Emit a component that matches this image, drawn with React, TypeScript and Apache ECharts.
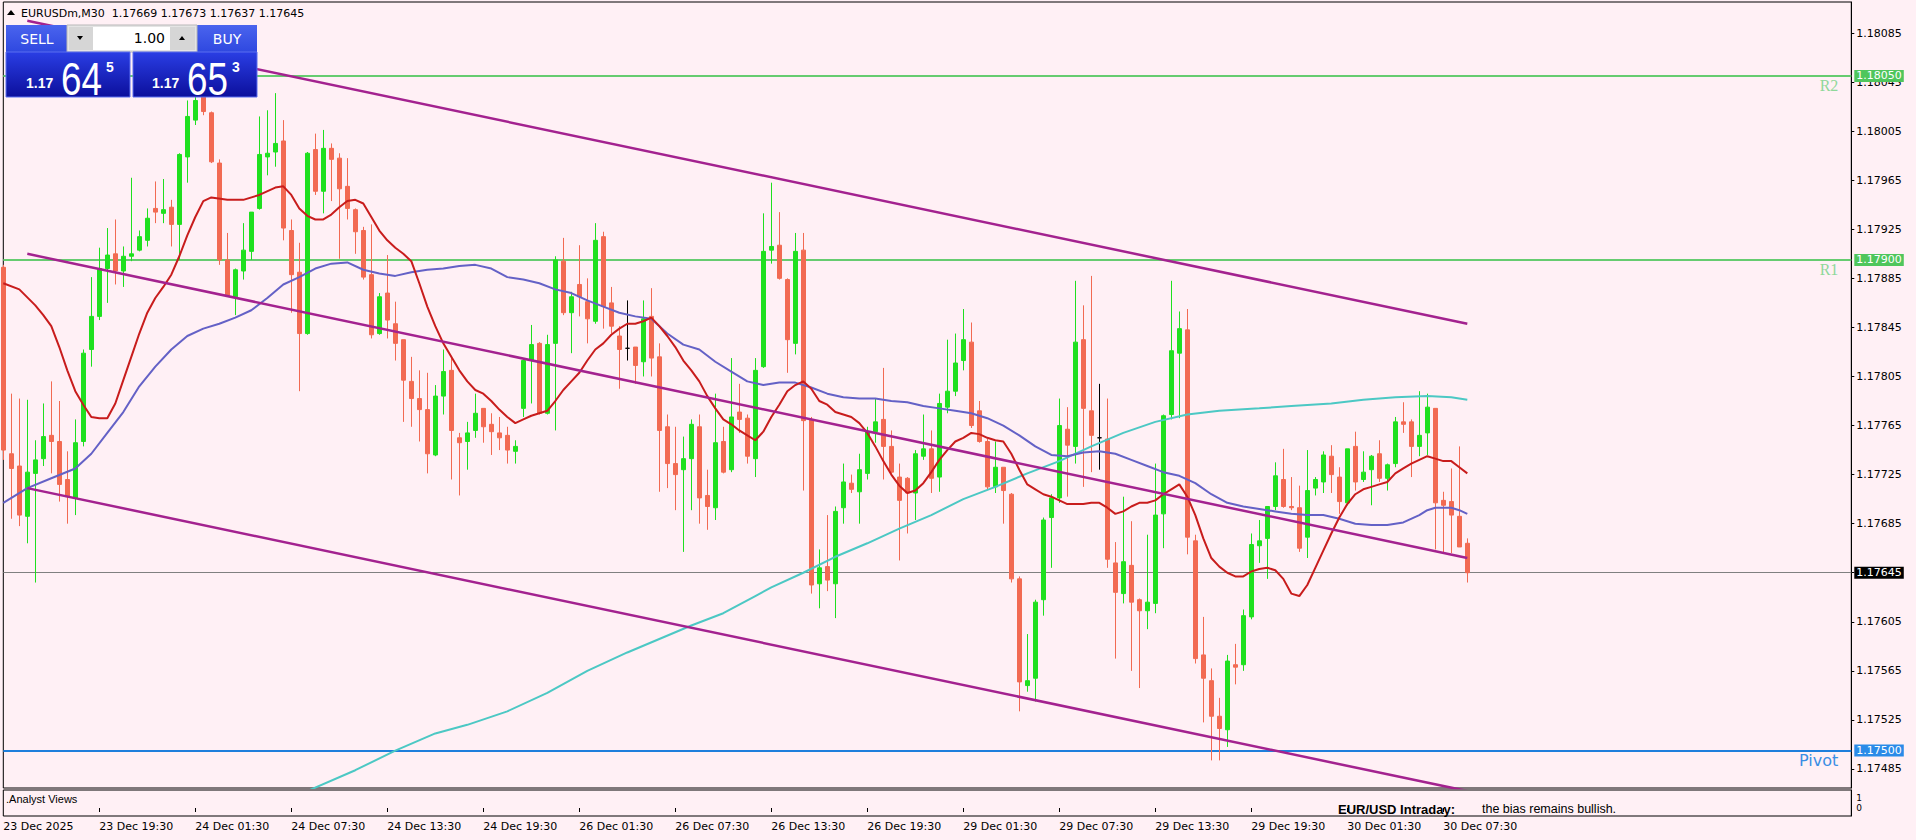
import React, { useEffect, useRef } from "react";
import * as echarts from "echarts";

// [open, high, low, close] per M30 bar, 23 Dec 13:30 .. 30 Dec 09:00
const candles: number[][] = [
[1.17894,1.17896,1.17737,1.17745],[1.17742,1.17791,1.17689,1.17730],[1.17732,1.17787,1.17683,1.17692],[1.17691,1.17786,1.17669,1.17727],
[1.17726,1.17753,1.17637,1.17737],[1.17738,1.17783,1.17732,1.17756],[1.17757,1.17801,1.17726,1.17752],[1.17752,1.17785,1.17703,1.17717],
[1.17721,1.17744,1.17685,1.17707],[1.17706,1.17770,1.17692,1.17751],[1.17752,1.17827,1.17748,1.17824],[1.17827,1.17886,1.17813,1.17854],
[1.17854,1.17910,1.17851,1.17893],[1.17893,1.17926,1.17865,1.17904],[1.17905,1.17933,1.17880,1.17891],[1.17891,1.17911,1.17878,1.17903],
[1.17903,1.17967,1.17899,1.17905],[1.17908,1.17924,1.17907,1.17919],[1.17916,1.17942,1.17911,1.17934],[1.17942,1.17964,1.17930,1.17939],
[1.17938,1.17966,1.17930,1.17941],[1.17943,1.17949,1.17911,1.17929],[1.17929,1.17987,1.17900,1.17986],[1.17984,1.18030,1.17963,1.18017],
[1.18014,1.18040,1.18010,1.18030],[1.18035,1.18045,1.18018,1.18021],[1.18020,1.18021,1.17979,1.17980],[1.17979,1.17982,1.17896,1.17900],
[1.17900,1.17922,1.17870,1.17871],[1.17870,1.17893,1.17855,1.17892],[1.17891,1.17930,1.17884,1.17908],[1.17907,1.17939,1.17900,1.17939],
[1.17942,1.18017,1.17941,1.17986],[1.17984,1.18022,1.17969,1.17987],[1.17988,1.18036,1.17976,1.17995],[1.17997,1.18014,1.17916,1.17926],
[1.17924,1.17933,1.17857,1.17888],[1.17890,1.17914,1.17793,1.17840],[1.17840,1.17988,1.17839,1.17987],[1.17990,1.18003,1.17953,1.17956],
[1.17956,1.18006,1.17938,1.17991],[1.17991,1.17995,1.17948,1.17982],[1.17983,1.17987,1.17901,1.17958],[1.17960,1.17983,1.17933,1.17942],
[1.17941,1.17942,1.17905,1.17923],[1.17924,1.17927,1.17884,1.17886],[1.17888,1.17929,1.17836,1.17839],[1.17840,1.17873,1.17839,1.17870],
[1.17873,1.17904,1.17836,1.17851],[1.17848,1.17866,1.17818,1.17832],[1.17835,1.17835,1.17768,1.17802],[1.17801,1.17821,1.17764,1.17787],
[1.17787,1.17810,1.17752,1.17778],[1.17778,1.17808,1.17726,1.17742],[1.17741,1.17798,1.17740,1.17789],[1.17789,1.17827,1.17774,1.17809],
[1.17810,1.17820,1.17721,1.17761],[1.17755,1.17759,1.17708,1.17751],[1.17752,1.17768,1.17729,1.17759],[1.17761,1.17791,1.17755,1.17775],
[1.17779,1.17779,1.17751,1.17764],[1.17766,1.17775,1.17741,1.17760],[1.17759,1.17772,1.17745,1.17755],[1.17757,1.17764,1.17734,1.17745],
[1.17744,1.17753,1.17734,1.17748],[1.17779,1.17820,1.17772,1.17818],[1.17818,1.17847,1.17783,1.17831],[1.17832,1.17833,1.17774,1.17775],
[1.17775,1.17839,1.17774,1.17831],[1.17832,1.17903,1.17761,1.17900],[1.17899,1.17918,1.17855,1.17857],[1.17857,1.17874,1.17824,1.17870],
[1.17880,1.17912,1.17854,1.17870],[1.17866,1.17885,1.17832,1.17852],[1.17850,1.17930,1.17848,1.17916],[1.17919,1.17923,1.17844,1.17862],
[1.17865,1.17878,1.17840,1.17846],[1.17838,1.17846,1.17795,1.17827],[1.17828,1.17867,1.17818,1.17828],[1.17829,1.17829,1.17799,1.17814],
[1.17817,1.17867,1.17805,1.17852],[1.17854,1.17877,1.17805,1.17820],[1.17821,1.17832,1.17711,1.17761],[1.17764,1.17774,1.17714,1.17734],
[1.17734,1.17764,1.17696,1.17725],[1.17729,1.17756,1.17662,1.17738],[1.17738,1.17770,1.17696,1.17766],[1.17764,1.17774,1.17685,1.17706],
[1.17708,1.17729,1.17680,1.17699],[1.17698,1.17791,1.17688,1.17751],[1.17752,1.17764,1.17726,1.17727],[1.17729,1.17820,1.17727,1.17772],
[1.17776,1.17799,1.17759,1.17770],[1.17771,1.17774,1.17734,1.17740],[1.17738,1.17820,1.17723,1.17810],[1.17813,1.17938,1.17812,1.17907],
[1.17908,1.17963,1.17897,1.17911],[1.17912,1.17939,1.17884,1.17885],[1.17884,1.17885,1.17808,1.17835],[1.17832,1.17922,1.17823,1.17907],
[1.17908,1.17922,1.17712,1.17769],[1.17770,1.17772,1.17628,1.17635],[1.17636,1.17664,1.17616,1.17649],[1.17650,1.17692,1.17630,1.17639],
[1.17636,1.17699,1.17608,1.17695],[1.17698,1.17734,1.17685,1.17719],[1.17718,1.17725,1.17710,1.17713],[1.17711,1.17742,1.17685,1.17729],
[1.17726,1.17764,1.17721,1.17760],[1.17760,1.17787,1.17751,1.17768],[1.17770,1.17812,1.17721,1.17748],[1.17748,1.17761,1.17726,1.17727],
[1.17723,1.17734,1.17655,1.17704],[1.17722,1.17723,1.17677,1.17710],[1.17710,1.17745,1.17688,1.17742],[1.17740,1.17774,1.17737,1.17746],
[1.17746,1.17761,1.17710,1.17722],[1.17723,1.17791,1.17711,1.17783],[1.17780,1.17835,1.17775,1.17793],[1.17793,1.17840,1.17789,1.17816],
[1.17818,1.17860,1.17810,1.17835],[1.17833,1.17849,1.17763,1.17765],[1.17777,1.17785,1.17751,1.17752],[1.17752,1.17754,1.17713,1.17715],
[1.17715,1.17752,1.17710,1.17731],[1.17731,1.17731,1.17685,1.17712],[1.17709,1.17710,1.17637,1.17640],[1.17640,1.17642,1.17532,1.17556],
[1.17553,1.17595,1.17548,1.17557],[1.17559,1.17623,1.17540,1.17621],[1.17623,1.17690,1.17610,1.17688],[1.17690,1.17709,1.17649,1.17706],
[1.17706,1.17787,1.17702,1.17765],[1.17762,1.17780,1.17707,1.17749],[1.17748,1.17883,1.17734,1.17833],[1.17835,1.17863,1.17715,1.17779],
[1.17777,1.17887,1.17727,1.17757],[1.17755,1.17799,1.17729,1.17755],[1.17754,1.17787,1.17649,1.17656],[1.17653,1.17670,1.17575,1.17629],
[1.17628,1.17707,1.17620,1.17654],[1.17651,1.17687,1.17565,1.17621],[1.17623,1.17624,1.17551,1.17614],[1.17614,1.17676,1.17599,1.17621],
[1.17620,1.17734,1.17612,1.17692],[1.17693,1.17774,1.17665,1.17773],[1.17774,1.17883,1.17770,1.17826],[1.17824,1.17858,1.17771,1.17844],
[1.17843,1.17860,1.17660,1.17674],[1.17671,1.17676,1.17571,1.17575],[1.17578,1.17609,1.17523,1.17559],[1.17557,1.17567,1.17492,1.17528],
[1.17528,1.17543,1.17492,1.17518],[1.17517,1.17578,1.17503,1.17573],[1.17570,1.17587,1.17554,1.17568],[1.17570,1.17615,1.17565,1.17610],
[1.17609,1.17677,1.17607,1.17668],[1.17667,1.17688,1.17653,1.17671],[1.17673,1.17699,1.17640,1.17699],[1.17699,1.17735,1.17696,1.17724],
[1.17721,1.17746,1.17698,1.17699],[1.17699,1.17723,1.17696,1.17698],[1.17698,1.17716,1.17662,1.17665],[1.17674,1.17745,1.17657,1.17712],
[1.17714,1.17723,1.17708,1.17721],[1.17719,1.17744,1.17710,1.17741],[1.17740,1.17749,1.17710,1.17725],[1.17723,1.17731,1.17693,1.17703],
[1.17702,1.17746,1.17700,1.17746],[1.17748,1.17760,1.17712,1.17719],[1.17721,1.17744,1.17719,1.17727],[1.17729,1.17741,1.17700,1.17740],
[1.17742,1.17753,1.17719,1.17722],[1.17722,1.17734,1.17712,1.17733],[1.17734,1.17772,1.17731,1.17768],[1.17768,1.17784,1.17759,1.17766],
[1.17768,1.17770,1.17723,1.17748],[1.17748,1.17793,1.17740,1.17757],[1.17759,1.17791,1.17741,1.17780],[1.17779,1.17779,1.17664,1.17702],
[1.17704,1.17711,1.17661,1.17700],[1.17703,1.17730,1.17661,1.17692],[1.17691,1.17748,1.17666,1.17666],[1.17669,1.17673,1.17637,1.17645],
];

// moving averages: [bar index, price]
const maFast: number[][] = [
[0,1.17881],[2,1.17876],[4,1.17863],[5,1.17855],[6,1.17846],[7,1.17829],[8,1.17810],[9,1.17793],[10,1.17782],[11,1.17772],[12,1.17771],[13,1.17771],[14,1.17783],[15,1.17802],[16,1.17821],[17,1.17840],[18,1.17857],[19,1.17869],[20,1.17878],[21,1.17888],[22,1.17903],[23,1.17920],[24,1.17935],[25,1.17948],[26,1.17951],[28,1.17949],[30,1.17949],[32,1.17953],[34,1.17959],[35,1.17960],[36,1.17953],[37,1.17942],[38,1.17936],[39,1.17933],[40,1.17933],[41,1.17937],[42,1.17943],[43,1.17948],[44,1.17949],[45,1.17946],[46,1.17935],[47,1.17924],[48,1.17916],[49,1.17910],[50,1.17905],[51,1.17899],[52,1.17881],[53,1.17862],[54,1.17846],[55,1.17832],[56,1.17821],[57,1.17810],[58,1.17801],[59,1.17794],[60,1.17791],[61,1.17785],[62,1.17778],[63,1.17772],[64,1.17767],[65,1.17770],[66,1.17773],[67,1.17775],[68,1.17777],[69,1.17785],[70,1.17794],[71,1.17801],[72,1.17808],[73,1.17818],[74,1.17827],[75,1.17832],[76,1.17839],[77,1.17844],[78,1.17848],[79,1.17848],[80,1.17850],[81,1.17853],[82,1.17846],[83,1.17838],[84,1.17829],[85,1.17818],[86,1.17810],[87,1.17801],[88,1.17789],[89,1.17779],[90,1.17770],[91,1.17766],[92,1.17761],[93,1.17757],[94,1.17753],[95,1.17760],[96,1.17772],[97,1.17782],[98,1.17793],[99,1.17798],[100,1.17801],[101,1.17795],[102,1.17785],[103,1.17782],[104,1.17776],[105,1.17774],[106,1.17772],[107,1.17767],[108,1.17759],[109,1.17748],[110,1.17736],[111,1.17725],[112,1.17716],[113,1.17710],[114,1.17712],[115,1.17718],[116,1.17727],[117,1.17737],[118,1.17745],[119,1.17752],[120,1.17755],[121,1.17759],[122,1.17758],[123,1.17755],[124,1.17753],[125,1.17752],[126,1.17742],[127,1.17729],[128,1.17717],[129,1.17713],[130,1.17709],[131,1.17707],[132,1.17704],[133,1.17701],[134,1.17701],[135,1.17701],[136,1.17702],[137,1.17702],[138,1.17698],[139,1.17693],[140,1.17695],[141,1.17699],[142,1.17702],[143,1.17702],[144,1.17704],[145,1.17709],[146,1.17713],[147,1.17717],[148,1.17707],[149,1.17692],[150,1.17673],[151,1.17657],[152,1.17650],[153,1.17645],[154,1.17642],[155,1.17642],[156,1.17646],[157,1.17648],[158,1.17649],[159,1.17647],[160,1.17640],[161,1.17628],[162,1.17626],[163,1.17635],[164,1.17649],[165,1.17663],[166,1.17677],[167,1.17690],[168,1.17701],[169,1.17709],[170,1.17713],[171,1.17715],[172,1.17717],[173,1.17719],[174,1.17726],[175,1.17730],[176,1.17734],[177,1.17737],[178,1.17740],[179,1.17738],[180,1.17736],[181,1.17736],[182,1.17731],[183,1.17726],
];
const maMid: number[][] = [
[0,1.17702],[3,1.17714],[6,1.17722],[9,1.17730],[11,1.17742],[13,1.17759],[15,1.17776],[17,1.17797],[19,1.17813],[21,1.17827],[23,1.17838],[25,1.17844],[27,1.17848],[29,1.17853],[31,1.17859],[33,1.17869],[35,1.17880],[37,1.17886],[39,1.17893],[41,1.17897],[43,1.17898],[45,1.17892],[47,1.17889],[49,1.17887],[51,1.17890],[53,1.17892],[55,1.17893],[57,1.17895],[59,1.17896],[61,1.17893],[63,1.17886],[65,1.17884],[67,1.17881],[69,1.17876],[71,1.17873],[73,1.17867],[75,1.17862],[77,1.17857],[79,1.17854],[81,1.17852],[83,1.17840],[85,1.17831],[87,1.17827],[89,1.17817],[91,1.17809],[93,1.17801],[95,1.17798],[97,1.17800],[99,1.17800],[101,1.17796],[103,1.17791],[105,1.17788],[107,1.17787],[109,1.17787],[111,1.17785],[113,1.17784],[115,1.17781],[117,1.17779],[119,1.17777],[121,1.17775],[123,1.17771],[125,1.17765],[127,1.17757],[129,1.17748],[131,1.17741],[133,1.17740],[135,1.17743],[137,1.17744],[139,1.17742],[141,1.17737],[143,1.17732],[145,1.17727],[147,1.17724],[149,1.17718],[151,1.17709],[153,1.17702],[155,1.17699],[157,1.17697],[159,1.17695],[161,1.17693],[163,1.17692],[165,1.17692],[167,1.17689],[169,1.17685],[171,1.17684],[173,1.17684],[175,1.17686],[177,1.17692],[178,1.17696],[179,1.17698],[180,1.17698],[181,1.17698],[182,1.17696],[183,1.17693],
];
const maSlow: number[][] = [
[38,1.17467],[44,1.17484],[49,1.17500],[54,1.17514],[58,1.17521],[63,1.17532],[68,1.17547],[73,1.17565],[78,1.17580],[82,1.17591],[86,1.17602],[90,1.17612],[94,1.17626],[96,1.17633],[100,1.17645],[104,1.17658],[108,1.17669],[112,1.17681],[116,1.17692],[120,1.17705],[124,1.17715],[128,1.17726],[132,1.17736],[136,1.17748],[140,1.17759],[144,1.17768],[148,1.17774],[152,1.17777],[157,1.17779],[161,1.17781],[166,1.17783],[170,1.17786],[174,1.17788],[178,1.17789],[181,1.17788],[183,1.17786],
];

// trend channel lines: [bar index, price]
const channelUpper = [[3, 1.18095], [183, 1.17848]];
const channelMiddle = [[3, 1.17905], [183, 1.17657]];
const channelLower = [[3, 1.17714], [183, 1.17467]];

const levelR2 = 1.1805;
const levelR1 = 1.179;
const levelPivot = 1.175;
const bidPrice = 1.17645;

const priceTicks = [1.17485,1.17525,1.17565,1.17605,1.17645,1.17685,1.17725,1.17765,1.17805,1.17845,1.17885,1.17925,1.17965,1.18005,1.18045,1.18085];

const timeTicks: [number, string][] = [
[0,"23 Dec 2025"],[12,"23 Dec 19:30"],[24,"24 Dec 01:30"],[36,"24 Dec 07:30"],[48,"24 Dec 13:30"],[60,"24 Dec 19:30"],[72,"26 Dec 01:30"],[84,"26 Dec 07:30"],[96,"26 Dec 13:30"],[108,"26 Dec 19:30"],[120,"29 Dec 01:30"],[132,"29 Dec 07:30"],[144,"29 Dec 13:30"],[156,"29 Dec 19:30"],[168,"30 Dec 01:30"],[180,"30 Dec 07:30"],
];

const SLOTS = 232;
const categories = Array.from({ length: SLOTS }, (_, i) => String(i));
const tickMap: Record<number, string> = {};
timeTicks.forEach(([i, t]) => (tickMap[i] = t));

const FONT = '"DejaVu Sans", sans-serif';
const BG = "#FFF0F5";
const BULL = "#1fe01f";
const BEAR = "#f26a52";
const CHANNEL = "#a3228f";

export default function App() {
  const ref = useRef<HTMLDivElement>(null);
  useEffect(() => {
    if (!ref.current) return;
    const chart = echarts.init(ref.current, null, { renderer: "svg" });
    const ohlc = candles.map(([o, h, l, c]) => [o, c, l, h]);
    const lineSeries = (data: number[][], color: string, width: number, z = 4, extra: any = {}) => ({
      type: "line",
      xAxisIndex: 0,
      yAxisIndex: 0,
      data,
      symbol: "none",
      silent: true,
      z,
      lineStyle: { color, width },
      ...extra,
    });
    const tag = (value: number, bg: string) => ({
      yAxis: value,
      lineStyle: { color: "rgba(0,0,0,0)", width: 1, type: "solid" },
      label: {
        show: true,
        position: "end",
        distance: 3,
        formatter: value.toFixed(5),
        color: "#fff",
        backgroundColor: bg,
        padding: [1, 2, 0, 2],
        fontSize: 11,
        fontFamily: FONT,
      },
    });
    const sellBuyGrad = (a: string, b: string) =>
      new echarts.graphic.LinearGradient(0, 0, 0, 1, [
        { offset: 0, color: a },
        { offset: 1, color: b },
      ]);
    const txt = (text: string, x: number, y: number, font: string, fill: string, align = "left", extra: any = {}) => ({
      type: "text",
      z: 101,
      x,
      y,
      ...extra,
      style: { text, x: 0, y: 0, font, fill, align, verticalAlign: "middle" },
    });
    const levelLabel = (text: string, color: string, font: string, size: number) => ({
      show: true,
      position: "insideEndBottom",
      formatter: text,
      color,
      fontSize: size,
      fontFamily: font,
      distance: 2,
      padding: [0, 11, 0, 0],
    });

    chart.setOption({
      animation: false,
      backgroundColor: BG,
      grid: [
        { left: 3.3, top: 2, width: 1848, height: 786, show: true, borderColor: "#000", borderWidth: 1, backgroundColor: "transparent" },
        { left: 3.3, top: 790, width: 1848, height: 26, show: true, borderColor: "#000", borderWidth: 1, backgroundColor: "transparent" },
      ],
      xAxis: [
        { type: "category", gridIndex: 0, data: categories, boundaryGap: false, show: false },
        {
          type: "category",
          gridIndex: 1,
          data: categories,
          boundaryGap: false,
          axisLine: { show: false },
          axisTick: { show: true, length: 4, interval: (i: number) => i in tickMap && i > 0, lineStyle: { color: "#000" } },
          axisLabel: {
            interval: (i: number) => i in tickMap,
            formatter: (_v: string, i: number) => tickMap[i] || "",
            align: "left",
            margin: 5,
            padding: [0, 0, 0, 0],
            color: "#000",
            fontSize: 11,
            fontFamily: FONT,
          },
          splitLine: { show: false },
        },
      ],
      yAxis: [
        {
          type: "value",
          gridIndex: 0,
          position: "right",
          min: 1.174695,
          max: 1.181103,
          axisLine: { show: true, lineStyle: { color: "#000" } },
          axisTick: { show: true, length: 3, customValues: priceTicks, lineStyle: { color: "#000" } },
          axisLabel: {
            customValues: priceTicks,
            formatter: (v: number) => v.toFixed(5),
            color: "#000",
            fontSize: 11,
            fontFamily: FONT,
            margin: 5,
          },
          splitLine: { show: false },
        },
        {
          type: "value",
          gridIndex: 1,
          position: "right",
          min: -0.8,
          max: 1.8,
          axisLine: { show: true, lineStyle: { color: "#000" } },
          axisTick: { show: false },
          axisLabel: { customValues: [0, 1], formatter: (v: number) => String(Math.round(v)), color: "#000", fontSize: 9, fontFamily: FONT, margin: 5 },
          splitLine: { show: false },
        },
      ],
      series: [
        {
          type: "candlestick",
          xAxisIndex: 0,
          yAxisIndex: 0,
          data: ohlc,
          barWidth: 5,
          z: 3,
          silent: true,
          itemStyle: {
            color: BULL,
            color0: BEAR,
            borderColor: BULL,
            borderColor0: BEAR,
            borderColorDoji: "#000",
            borderWidth: 1,
          },
        },
        lineSeries(maSlow, "#4cc8c4", 2),
        lineSeries(maMid, "#6461c6", 2),
        lineSeries(maFast, "#c81c1c", 2),
        lineSeries(channelUpper, CHANNEL, 2.5, 5, {
          clip: false,
          markLine: {
            silent: true,
            symbol: ["none", "none"],
            animation: false,
            precision: 5,
            z: 3,
            data: [
              { yAxis: bidPrice, lineStyle: { color: "#808080", width: 1, type: "solid" }, label: { show: false } },
              { yAxis: levelR2, lineStyle: { color: "#66cc70", width: 2, type: "solid" }, label: levelLabel("R2", "#8fd89a", '"Liberation Serif", serif', 16) },
              { yAxis: levelR1, lineStyle: { color: "#66cc70", width: 2, type: "solid" }, label: levelLabel("R1", "#8fd89a", '"Liberation Serif", serif', 16) },
              { yAxis: levelPivot, lineStyle: { color: "#1e7fdc", width: 2, type: "solid" }, label: levelLabel("Pivot", "#3a8ee4", FONT, 16) },
              tag(levelR2, "#4fc65c"),
              tag(levelR1, "#4fc65c"),
              tag(levelPivot, "#2a8be8"),
              tag(bidPrice, "#000000"),
            ],
          },
        }),
        lineSeries(channelMiddle, CHANNEL, 2.5, 5),
        lineSeries(channelLower, CHANNEL, 2.5, 5),
      ],
      graphic: [
        // title
        { type: "polygon", z: 101, shape: { points: [[7, 15], [11, 10], [15, 15]] }, style: { fill: "#000" } },
        txt("EURUSDm,M30  1.17669 1.17673 1.17637 1.17645", 21, 13, `11px ${FONT}`, "#000"),
        // SELL header
        { type: "rect", z: 100, shape: { x: 6, y: 25, width: 61, height: 27 }, style: { fill: sellBuyGrad("#4a64ee", "#2f48e0") } },
        txt("SELL", 37, 39, `14px ${FONT}`, "#fff", "center"),
        // BUY header
        { type: "rect", z: 100, shape: { x: 197, y: 25, width: 60, height: 27 }, style: { fill: sellBuyGrad("#4a64ee", "#2f48e0") } },
        txt("BUY", 227, 39, `14px ${FONT}`, "#fff", "center"),
        // lot control
        { type: "rect", z: 100, shape: { x: 67, y: 25, width: 130, height: 27 }, style: { fill: "#e4e4e4", stroke: "#b8b8b8", lineWidth: 1 } },
        { type: "rect", z: 100, shape: { x: 69, y: 27, width: 24, height: 23 }, style: { fill: "#d6d6d6" } },
        { type: "rect", z: 100, shape: { x: 93, y: 27, width: 77, height: 23 }, style: { fill: "#ffffff" } },
        { type: "rect", z: 100, shape: { x: 170, y: 27, width: 25, height: 23 }, style: { fill: "#d6d6d6" } },
        { type: "polygon", z: 101, shape: { points: [[77, 36], [83, 36], [80, 40]] }, style: { fill: "#000" } },
        { type: "polygon", z: 101, shape: { points: [[179, 40], [185, 40], [182, 36]] }, style: { fill: "#000" } },
        txt("1.00", 165, 38, `14px ${FONT}`, "#000", "right"),
        // SELL price
        { type: "rect", z: 100, shape: { x: 6, y: 52, width: 124, height: 45 }, style: { fill: sellBuyGrad("#2a3ee4", "#0c0f9c"), stroke: "#5a6ef0", lineWidth: 1 } },
        txt("1.17", 26, 83, `bold 14px "Liberation Sans", sans-serif`, "#fff"),
        txt("64", 61, 79, `46px "Liberation Sans", sans-serif`, "#fff", "left", { scaleX: 0.8 }),
        txt("5", 106, 67, `bold 14px "Liberation Sans", sans-serif`, "#fff"),
        // BUY price
        { type: "rect", z: 100, shape: { x: 133, y: 52, width: 124, height: 45 }, style: { fill: sellBuyGrad("#2a3ee4", "#0c0f9c"), stroke: "#5a6ef0", lineWidth: 1 } },
        txt("1.17", 152, 83, `bold 14px "Liberation Sans", sans-serif`, "#fff"),
        txt("65", 187, 79, `46px "Liberation Sans", sans-serif`, "#fff", "left", { scaleX: 0.8 }),
        txt("3", 232, 67, `bold 14px "Liberation Sans", sans-serif`, "#fff"),
        // sub window texts
        txt(".Analyst Views", 6, 799, `11px "Liberation Sans", sans-serif`, "#000"),
        txt("EUR/USD Intraday:", 1338, 809, `bold 13px "Liberation Sans", sans-serif`, "#000"),
        txt("the bias remains bullish.", 1482, 809, `12.5px "Liberation Sans", sans-serif`, "#000"),
      ],
    });
    return () => chart.dispose();
  }, []);
  return (
    <div
      ref={ref}
      style={{ position: "fixed", left: 0, top: 0, width: 1916, height: 840, background: BG }}
    />
  );
}
